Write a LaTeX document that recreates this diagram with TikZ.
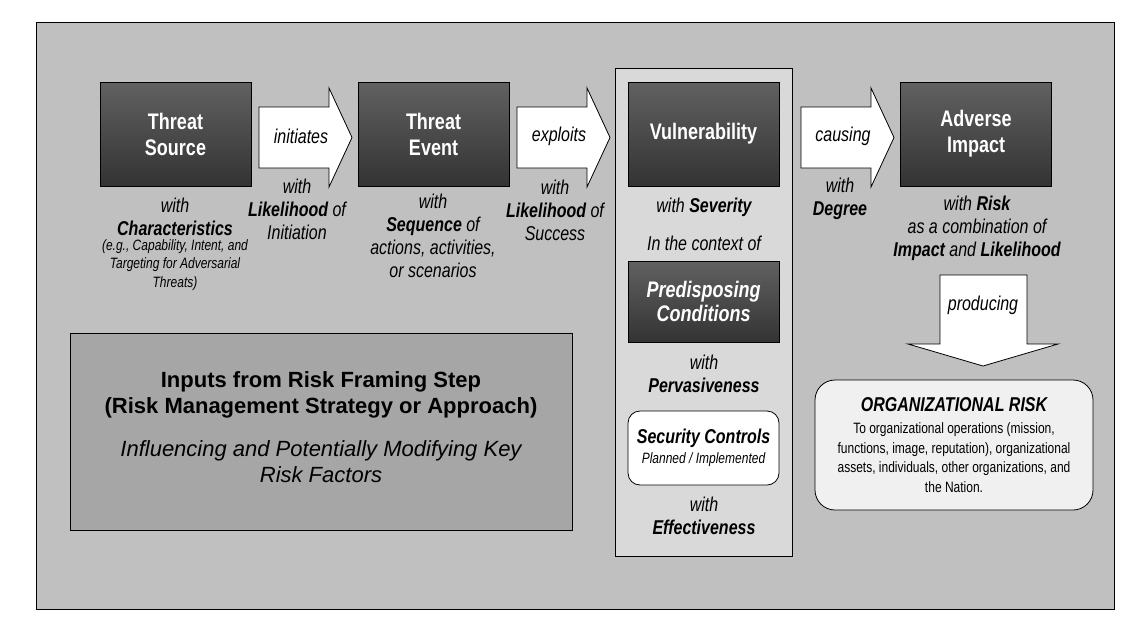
\documentclass[tikz,border=0pt]{standalone}
\usepackage{fontspec}
\setmainfont{Liberation Sans}[FakeStretch=0.8]
\newfontfamily\widefont{Liberation Sans}
\usepackage{xcolor}
\usepackage{tikz}
\usetikzlibrary{calc}

\definecolor{bggray}{HTML}{C0C0C0}
\definecolor{colgray}{HTML}{D9D9D9}
\definecolor{inputgray}{HTML}{A6A6A6}
\definecolor{orggray}{HTML}{F0F0F0}

\tikzset{
  darkbox/.style={draw, thick, top color=black!62, bottom color=black!80, text=white,
    font=\bfseries\fontsize{22.5}{26}\selectfont, align=center,
    minimum width=151, minimum height=104, inner sep=0pt},
  withtext/.style={font=\itshape\fontsize{20}{23}\selectfont, align=center, inner sep=0pt},
  smalltext/.style={font=\itshape\fontsize{15}{18.5}\selectfont, align=center, inner sep=0pt},
  blockarrow/.style={draw, thick, fill=white}
}

\begin{document}
\begin{tikzpicture}[x=1pt, y=-1pt]
                \useasboundingbox (0,0) rectangle (1139,632);
                % Background and Vulnerability column
                \draw[thick, fill=bggray] (36,22) rectangle (1114,609);
                \draw[thick, fill=colgray] (615,68) rectangle (792,556);

                % Main chain
                \node[darkbox] (ts) at (175.5,134) {Threat\\Source};
                \node[darkbox] (te) at (433.5,134) {Threat\\Event};
                \node[darkbox] (vul) at (703.5,134) {Vulnerability};
                \node[darkbox] (ai) at (976,134) {Adverse\\Impact};
                \node[darkbox, minimum height=81, font=\bfseries\itshape\fontsize{22.5}{24}\selectfont] (pc) at (703.5,301.5) {Predisposing\\Conditions};

                \foreach \x/\w in {259/initiates, 517/exploits, 801/causing} {
                    \draw[blockarrow] (\x,107) -- ++(70,0) -- ++(0,-19) -- ++(23,49.5) -- ++(-23,49.5) -- ++(0,-19) -- ++(-70,0) -- cycle;
                    \node[withtext] (\w) at (\x+42,136) {\w};
                }

                % Labels under the chain
                \node[withtext] (ts-with) at (175,216.5) {with\\\textbf{Characteristics}};
                \node[smalltext] (ts-eg) at (175,265) {(e.g., Capability, Intent, and\\Targeting for Adversarial\\Threats)};
                \node[withtext] (init-with) at (297,209) {with\\\textbf{Likelihood} of\\Initiation};
                \node[withtext] (te-with) at (433,236) {with\\\textbf{Sequence} of\\actions, activities,\\or scenarios};
                \node[withtext] (expl-with) at (555,210) {with\\\textbf{Likelihood} of\\Success};
                \node[withtext] (vul-with) at (704,207) {with \textbf{Severity}};
                \node[withtext] (context) at (704,243) {In the context of};
                \node[withtext] (pc-with) at (704,373.5) {with\\\textbf{Pervasiveness}};
                \node[draw, thick, fill=white, rounded corners=12, minimum width=151, minimum height=74, align=center, inner sep=0pt, font=\itshape\fontsize{20}{20}\selectfont] (sc) at (703.5,448) {\textbf{Security Controls}\\{\fontsize{15}{15}\selectfont Planned / Implemented}};
                \node[withtext] (sc-with) at (704,516) {with\\\textbf{Effectiveness}};
                \node[withtext] (caus-with) at (840,198.5) {with\\\textbf{Degree}};
                \node[withtext] (ai-with) at (977,228.5) {with \textbf{Risk}\\as a combination of\\\textbf{Impact} and \textbf{Likelihood}};

                % Producing organizational risk
                \draw[blockarrow] (940,275) -- (1027,275) -- (1027,344) -- (1058,344) -- (983,366) -- (908,344) -- (940,344) -- cycle;
                \node[withtext] (producing) at (983,305) {producing};
                \node[draw, thick, fill=orggray, rounded corners=20, minimum width=278, minimum height=130, align=center, inner sep=0pt, font=\fontsize{15}{19.5}\selectfont] (org) at (954,445) {{\fontsize{20}{20}\selectfont\bfseries\itshape ORGANIZATIONAL RISK}\\[3pt]To organizational operations (mission,\\functions, image, reputation), organizational\\assets, individuals, other organizations, and\\the Nation.};

                % Inputs from risk framing
                \node[draw, thick, fill=inputgray, minimum width=502, minimum height=197] (inputs) at (321,431.5) {};
                \node[font=\widefont\bfseries\fontsize{22}{26}\selectfont, align=center, inner sep=0pt] (inputs-title) at (321,395) {Inputs from Risk Framing Step\\(Risk Management Strategy or Approach)};
                \node[font=\widefont\itshape\fontsize{22}{26}\selectfont, align=center, inner sep=0pt] (inputs-sub) at (321,462) {Influencing and Potentially Modifying Key\\Risk Factors};
            \end{tikzpicture}
\end{document}
